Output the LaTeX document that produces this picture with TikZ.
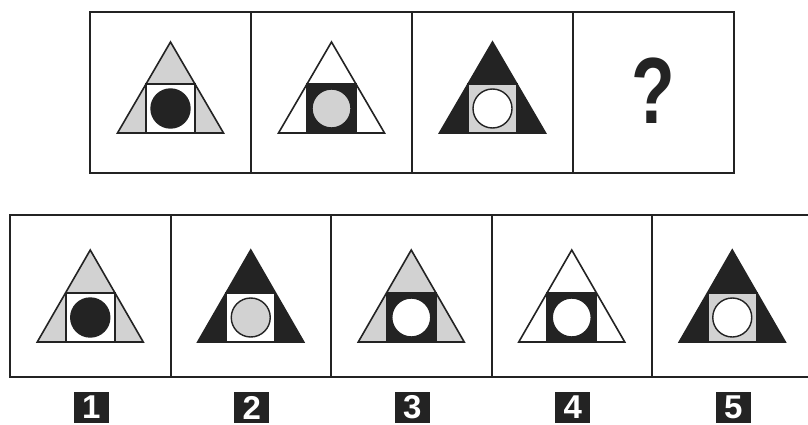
\documentclass[tikz,border=0pt]{standalone}
\usepackage{fontspec}
\setsansfont{Liberation Sans}
\usepackage{xcolor}
\usepackage{tikz}
\definecolor{ink}{HTML}{232323}
\definecolor{shade}{HTML}{D2D2D2}
\tikzset{
  frame/.style={draw=ink, line width=2pt},
  tri/.style={draw=ink, line width=1.6pt, line join=miter},
  sqr/.style={draw=ink, line width=1.6pt},
  blob/.style={draw=ink, line width=1.4pt},
  tag/.style={fill=ink, text=white, minimum width=35pt, minimum height=31pt, inner sep=0pt,
    font=\sffamily\bfseries\fontsize{33}{33}\selectfont}
}
\begin{document}
\begin{tikzpicture}[x=1pt, y=-1pt]
\clip (0,0) rectangle (808,425);
\fill[white] (0,0) rectangle (808,425);
% question row
\foreach \i in {0,...,3} {
  \draw[frame] (90+161*\i,12) rectangle ++(161,161);
}
\foreach \cx/\t/\s/\c in {170.5/shade/white/ink, 331.5/white/ink/shade, 492.5/ink/shade/white} {
  \filldraw[tri, fill=\t] (\cx-53,133) -- (\cx,42) -- (\cx+53,133) -- cycle;
  \filldraw[sqr, fill=\s] (\cx-24.5,84) rectangle (\cx+24.5,133);
  \filldraw[blob, fill=\c] (\cx,108.5) circle[radius=19.5];
}
\node[font=\sffamily\bfseries\fontsize{94}{94}\selectfont, text=ink, inner sep=0pt] (q) at (653.5,91) {\scalebox{0.76}[1]{?}};
% answer row
\foreach \i in {0,...,4} {
  \draw[frame] (10+160.5*\i,215) rectangle ++(160.5,162);
}
\foreach \n/\t/\s/\c in {1/shade/white/ink, 2/ink/white/shade, 3/shade/ink/white, 4/white/ink/white, 5/ink/shade/white} {
  \pgfmathsetmacro{\cx}{90.25+160.5*(\n-1)}
  \filldraw[tri, fill=\t] (\cx-53,342) -- (\cx,250) -- (\cx+53,342) -- cycle;
  \filldraw[sqr, fill=\s] (\cx-24.5,293) rectangle (\cx+24.5,342);
  \filldraw[blob, fill=\c] (\cx,317.5) circle[radius=19.5];
  \node[tag] (lbl\n) at (\cx+1,407.5) {\n};
}
\end{tikzpicture}
\end{document}
